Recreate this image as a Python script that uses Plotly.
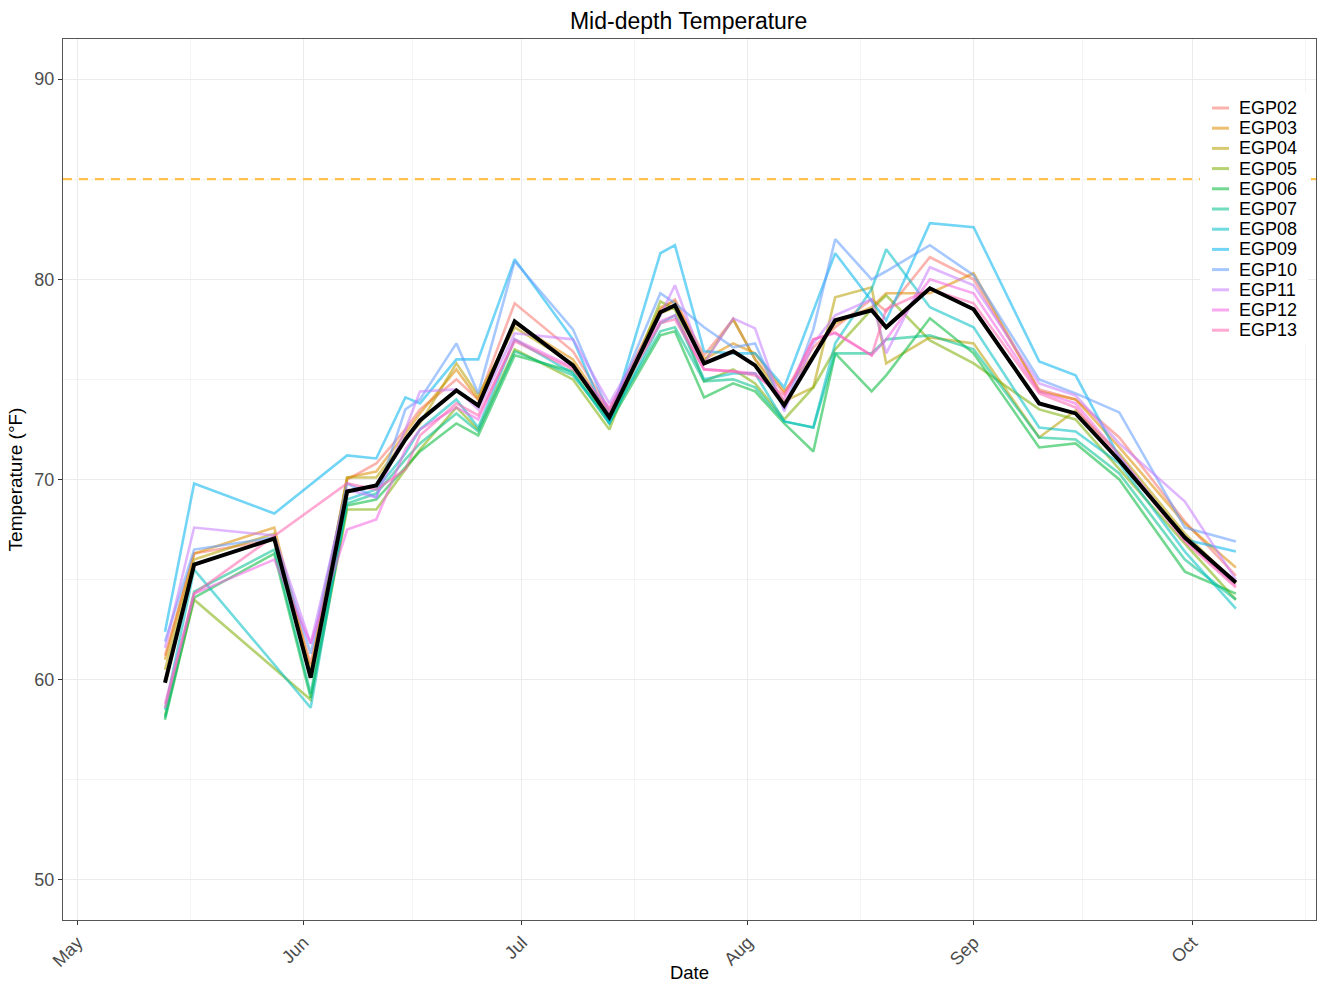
import plotly.graph_objects as go

dates = ["2023-05-13", "2023-05-17", "2023-05-28", "2023-06-02", "2023-06-07", "2023-06-11",
         "2023-06-15", "2023-06-17", "2023-06-22", "2023-06-25", "2023-06-30", "2023-07-08",
         "2023-07-13", "2023-07-20", "2023-07-22", "2023-07-26", "2023-07-30", "2023-08-02",
         "2023-08-06", "2023-08-10", "2023-08-13", "2023-08-18", "2023-08-20", "2023-08-26",
         "2023-09-01", "2023-09-10", "2023-09-15", "2023-09-21", "2023-09-30", "2023-10-07"]

sites = ["EGP02", "EGP03", "EGP04", "EGP05", "EGP06", "EGP07",
         "EGP08", "EGP09", "EGP10", "EGP11", "EGP12", "EGP13"]

egp02 = [61.2, 66.3, 67.0, 60.8, 70.0, 70.8, 72.5, 73.5, 75.0, 74.0, 78.8, 76.4, 73.5, 78.5, 79.0,
         76.2, 78.0, 76.0, 74.3, 76.6, 77.6, 79.0, 78.4, 81.1, 80.0, 74.5, 74.0, 72.1, 67.9, 65.2]
egp03 = [61.0, 66.3, 67.6, 60.5, 70.1, 70.4, 72.3, 73.3, 75.5, 74.0, 77.8, 76.0, 73.3, 78.6, 78.9,
         76.0, 76.8, 76.3, 74.4, 76.2, 77.8, 78.6, 79.3, 79.3, 80.3, 74.4, 74.0, 71.6, 67.8, 65.6]
egp04 = [60.5, 66.0, 67.3, 60.2, 70.1, 70.1, 72.0, 72.8, 75.8, 74.2, 77.6, 75.8, 72.9, 78.3, 78.6,
         75.9, 78.0, 76.0, 73.9, 74.6, 79.1, 79.6, 75.8, 77.1, 76.8, 72.1, 73.45, 71.3, 67.3, 64.8]
egp05 = [58.2, 64.0, None, 59.0, 68.5, 68.5, 70.5, 71.5, 73.6, 72.5, 76.5, 75.0, 72.5, 78.9, 78.5,
         74.9, 75.5, 74.8, 73.0, 74.6, 76.5, 78.5, 79.2, 76.95, 75.8, 73.5, 73.0, 70.5, 66.8, 64.0]
egp06 = [58.0, 64.1, 66.3, 59.1, 68.7, 69.0, 70.6, 71.4, 72.8, 72.2, 76.2, 75.4, 72.8, 77.2, 77.4,
         74.1, 74.8, 74.4, 72.8, 71.4, 76.3, 74.4, 75.2, 78.05, 76.3, 71.6, 71.8, 70.0, 65.4, 64.3]
egp07 = [58.1, 64.4, 66.5, 59.3, 68.8, 69.3, 71.0, 71.8, 73.3, 72.4, 76.4, 75.2, 73.0, 77.4, 77.6,
         74.9, 75.0, 74.6, 72.9, 72.6, 76.3, 76.3, 77.0, 77.2, 76.5, 72.1, 72.0, 70.3, 66.0, 64.0]
egp08 = [58.5, 65.5, None, 58.6, 69.0, 69.5, 71.3, 72.5, 74.0, 72.6, 77.0, 75.3, 72.8, 77.8, 78.2,
         75.0, 75.3, 75.3, 72.9, 72.6, 76.8, 79.5, 81.5, 78.6, 77.6, 72.6, 72.4, 70.8, 66.4, 63.55]
egp09 = [62.4, 69.8, 68.3, None, 71.2, 71.05, 74.1, 73.8, 76.0, 76.0, 81.0, 77.0, 72.8, 81.3, 81.7,
         76.4, 76.3, 76.3, 74.6, None, 81.3, None, 77.95, 82.8, 82.6, 75.9, 75.2, 71.1, 67.0, 66.4]
egp10 = [61.9, 66.5, 67.1, 61.3, 69.8, 69.1, 73.5, 74.0, 76.8, 74.3, 80.9, 77.5, 73.3, 79.3, 78.8,
         77.6, 76.6, 76.8, 73.5, 77.5, 82.0, 80.0, 80.4, 81.7, 80.2, 75.0, 74.3, 73.35, 67.6, 66.9]
egp11 = [61.6, 67.6, 67.2, 61.8, 69.5, 69.1, 72.5, 74.4, 74.5, 73.5, 77.3, 77.0, 73.8, 78.2, 79.7,
         75.8, 78.05, 77.55, 73.4, 76.8, 78.2, 79.0, 76.3, 80.6, 79.7, 74.8, 74.2, 71.8, 68.9, 65.0]
egp12 = [58.8, 64.3, 66.0, 61.8, 67.5, 68.0, 71.5, 72.5, 73.6, 73.0, 77.0, 75.6, 73.6, 77.9, 78.2,
         75.5, 75.4, 75.3, 74.0, 77.0, 77.3, 76.2, 77.0, 80.0, 79.3, 74.4, 73.8, 71.2, 67.0, 64.7]
egp13 = [58.6, 64.3, None, None, 69.8, 69.5, 70.5, 72.2, 73.8, 73.2, 76.9, 75.5, 73.4, 77.8, 78.0,
         75.5, 75.4, 75.2, 74.2, 77.0, 77.35, 76.2, 78.5, 79.5, 78.8, 74.3, 73.6, 71.0, 66.9, 64.6]

mean_temp = [59.85, 65.75, 67.05, 60.1, 69.4, 69.7, 72.0, 72.95, 74.45, 73.7, 77.9, 75.7, 73.1,
             78.35, 78.7, 75.8, 76.4, 75.7, 73.7, 76.1, 77.95, 78.45, 77.6, 79.55, 78.5, 73.8,
             73.3, 70.95, 67.1, 64.85]

threshold = 85

month_ticks = ["2023-05-01", "2023-06-01", "2023-07-01", "2023-08-01", "2023-09-01", "2023-10-01"]
month_labels = ["May", "Jun", "Jul", "Aug", "Sep", "Oct"]
minor_ticks = ["2023-05-16 12:00", "2023-06-16", "2023-07-16 12:00", "2023-08-16 12:00",
               "2023-09-16", "2023-10-16 12:00"]

series = [egp02, egp03, egp04, egp05, egp06, egp07, egp08, egp09, egp10, egp11, egp12, egp13]
colors = ["#F8766D", "#DE8C00", "#B79F00", "#7CAE00", "#00BA38", "#00C08B",
          "#00BFC4", "#00B4F0", "#619CFF", "#C77CFF", "#F564E3", "#FF64B0"]

LINE_ALPHA = 0.55
font_fam = "Liberation Sans, Arial, sans-serif"

# figure geometry (pixels)
W, H = 1318, 983
ML, MR, MT, MB = 63, 2, 39, 63
PW, PH = W - ML - MR, H - MT - MB


def px_x(x):
    return (x - ML) / PW


def px_y(y):
    return (H - MB - y) / PH


fig = go.Figure()

fig.add_trace(go.Scatter(
    x=["2023-04-29", "2023-10-18"], y=[threshold, threshold], mode="lines",
    line=dict(color="#FFC24D", width=2.2, dash="9px,7px"),
    showlegend=False, hoverinfo="skip"))

for name, vals, col in zip(sites, series, colors):
    fig.add_trace(go.Scatter(
        x=dates, y=vals, mode="lines", name=name, connectgaps=True, showlegend=False,
        line=dict(color=col, width=2.6), opacity=LINE_ALPHA))

fig.add_trace(go.Scatter(
    x=dates, y=mean_temp, mode="lines", name="Mean", showlegend=False,
    line=dict(color="black", width=4)))

# legend drawn inside the panel (ggplot style)
shapes = [dict(type="rect", xref="paper", yref="paper", layer="above",
               x0=px_x(1200), x1=px_x(1308), y0=px_y(344), y1=px_y(92),
               fillcolor="white", line=dict(width=0))]
annotations = []
for i, (name, col) in enumerate(zip(sites, colors)):
    yy = 108 + i * 20.2
    shapes.append(dict(type="line", xref="paper", yref="paper", layer="above",
                       x0=px_x(1212), x1=px_x(1229), y0=px_y(yy), y1=px_y(yy),
                       line=dict(color=col, width=3), opacity=LINE_ALPHA))
    annotations.append(dict(text=name, xref="paper", yref="paper", x=px_x(1237), y=px_y(yy),
                            xanchor="left", yanchor="middle", showarrow=False,
                            font=dict(family=font_fam, size=18, color="black")))

fig.update_layout(
    width=W, height=H,
    paper_bgcolor="white", plot_bgcolor="white",
    margin=dict(l=ML, r=MR, t=MT, b=MB),
    title=dict(text="Mid-depth Temperature", x=0.5225, xanchor="center", y=0.979, yanchor="middle",
               font=dict(family=font_fam, size=23, color="black")),
    font=dict(family=font_fam, size=16, color="#4D4D4D"),
    showlegend=False,
    shapes=shapes,
    annotations=annotations,
)

fig.update_xaxes(
    type="date", range=["2023-04-29", "2023-10-18"], automargin=False,
    tickmode="array", tickvals=month_ticks, ticktext=month_labels,
    tickangle=-45, tickfont=dict(size=18, color="#4D4D4D"),
    ticks="outside", ticklen=4, tickcolor="#333333",
    showgrid=True, gridcolor="#EBEBEB", gridwidth=1,
    minor=dict(tickmode="array", tickvals=minor_ticks, showgrid=True, gridcolor="#F4F4F4", gridwidth=1, ticks=""),
    showline=True, linecolor="#555555", linewidth=1, mirror=True,
    zeroline=False,
    title=dict(text="Date", font=dict(size=18.5, color="black"), standoff=6),
)

fig.update_yaxes(
    range=[48, 92], tickmode="array", tickvals=[50, 60, 70, 80, 90], automargin=False,
    tickfont=dict(size=18, color="#4D4D4D"),
    ticks="outside", ticklen=4, tickcolor="#333333",
    showgrid=True, gridcolor="#EBEBEB", gridwidth=1,
    minor=dict(dtick=5, tick0=45, showgrid=True, gridcolor="#F4F4F4", gridwidth=1, ticks=""),
    showline=True, linecolor="#555555", linewidth=1, mirror=True,
    zeroline=False,
    title=dict(text="Temperature (°F)", font=dict(size=19, color="black"), standoff=6),
)

fig.write_html("out.html")
